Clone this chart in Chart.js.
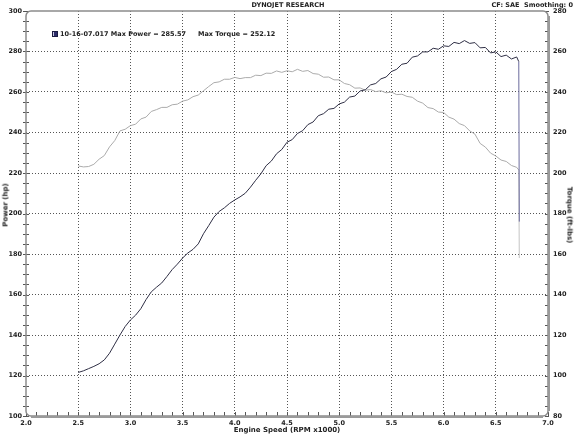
<!DOCTYPE html>
<html>
<head>
<meta charset="utf-8">
<script src="https://cdn.jsdelivr.net/npm/chart.js@4/dist/chart.umd.min.js"></script>
<style>
  html, body { margin: 0; padding: 0; background: #fff; }
  #wrap { position: relative; width: 576px; height: 435px; overflow: hidden; }
  canvas { position: absolute; left: 0; top: 0; }
  .t { position: absolute; font-family: "DejaVu Sans", Verdana, sans-serif; font-weight: bold; color: #222; white-space: nowrap; line-height: 1; }
  .c { transform: translate(-50%, -50%); }
  .rl { transform: translate(-50%, -50%) rotate(-90deg); }
  .rr { transform: translate(-50%, -50%) rotate(90deg); }
  #sq { position: absolute; left: 52px; top: 31px; width: 6px; height: 6px; background: linear-gradient(90deg, #c8c8e0 0 35%, #2c2c6a 35% 100%); border: 1px solid #1a1a40; box-sizing: border-box; }
</style>
</head>
<body>
<div id="wrap">
  <canvas id="c" width="576" height="435"></canvas>
  <div class="t c" style="left:288px; top:5px; font-size:6.5px;">DYNOJET RESEARCH</div>
  <div class="t" style="right:3px; top:2px; font-size:6.5px;">CF: SAE&nbsp;&nbsp;Smoothing: 0</div>
  <div id="sq"></div>
  <div class="t" style="left:60px; top:31px; font-size:6.5px;">10-16-07.017 Max Power = 285.57</div>
  <div class="t" style="left:198px; top:31px; font-size:6.5px;">Max Torque = 252.12</div>
  <div class="t c" style="left:287px; top:430px; font-size:7px;">Engine Speed (RPM x1000)</div>
  <div class="t rl" style="left:6px; top:205px; font-size:7px;">Power (hp)</div>
  <div class="t rr" style="left:569px; top:215px; font-size:7px;">Torque (ft-lbs)</div>
</div>
<script>
// ---- data ----
const rpm = [2.50,2.55,2.60,2.65,2.70,2.75,2.80,2.85,2.90,2.95,
             3.00,3.05,3.10,3.15,3.20,3.25,3.30,3.35,3.40,3.45,
             3.50,3.55,3.60,3.65,3.70,3.75,3.80,3.85,3.90,3.95,
             4.00,4.05,4.10,4.15,4.20,4.25,4.30,4.35,4.40,4.45,
             4.50,4.55,4.60,4.65,4.70,4.75,4.80,4.85,4.90,4.95,
             5.00,5.05,5.10,5.15,5.20,5.25,5.30,5.35,5.40,5.45,
             5.50,5.55,5.60,5.65,5.70,5.75,5.80,5.85,5.90,5.95,
             6.00,6.05,6.10,6.15,6.20,6.25,6.30,6.35,6.40,6.45,
             6.50,6.55,6.60,6.65,6.70,6.72,6.725];
const powerHp = [121.5,122.3,123.4,124.5,125.8,127.7,131.0,135.5,140.0,144.2,
                 147.4,149.8,153.0,157.5,161.3,163.6,165.7,168.9,172.3,175.0,
                 178.0,180.5,182.3,185.0,190.0,194.0,198.2,201.0,202.8,205.0,
                 206.7,208.2,210.0,213.0,216.4,219.6,223.6,225.9,229.5,231.6,
                 235.2,236.5,239.5,240.9,243.9,245.2,248.3,249.3,251.5,251.9,
                 254.1,255.0,257.5,258.0,260.5,261.1,263.5,264.2,266.5,267.4,
                 270.1,271.2,273.7,274.2,277.2,277.8,279.8,279.8,281.6,281.1,
                 282.8,282.5,284.5,283.9,285.4,284.0,284.4,281.8,282.0,279.3,
                 279.8,277.5,278.2,276.3,277.3,275.0,196.0];
const torqueFtLbs = [203.5,203.0,203.2,204.3,206.8,208.6,212.9,216.0,220.8,221.6,
                     223.4,224.1,226.7,227.6,230.4,231.3,232.4,232.4,233.7,234.0,
                     235.5,236.1,237.7,238.5,240.6,242.7,244.6,245.0,246.3,246.3,
                     247.2,246.6,247.1,247.1,248.3,248.1,249.3,249.2,250.4,249.7,
                     250.5,250.0,251.2,250.2,250.6,249.1,248.8,247.3,247.4,246.0,
                     246.0,244.2,243.6,241.9,242.0,240.9,241.2,240.2,240.6,239.6,
                     240.0,238.7,238.9,237.8,237.4,235.5,234.5,232.3,231.8,230.1,
                     229.9,227.6,226.6,224.4,223.4,220.8,219.2,214.6,212.8,209.8,
                     208.4,206.4,205.7,203.7,202.8,201.5,158.0];
const xTicks = {min: 2.0, max: 7.0, step: 0.5, minor: 0.1};
const hpTicks = {min: 100, max: 300, step: 20, minor: 5};
const tqTicks = {min: 80, max: 280, step: 20, minor: 5};

const FONT = "'DejaVu Sans', Verdana, sans-serif";

const frame = {
  id: 'frame',
  afterDraw(chart) {
    const {ctx, chartArea: a, scales} = chart;
    ctx.save();
    ctx.strokeStyle = '#555';
    ctx.lineWidth = 1;
    ctx.beginPath();
    for (let v = hpTicks.min; v <= hpTicks.max; v += hpTicks.minor) {
      const y = Math.round(scales.y.getPixelForValue(v)) + 0.5;
      ctx.moveTo(a.left - 3, y); ctx.lineTo(a.left + 3, y);
    }
    for (let v = tqTicks.min; v <= tqTicks.max; v += tqTicks.minor) {
      const y = Math.round(scales.y1.getPixelForValue(v)) + 0.5;
      ctx.moveTo(a.right - 3, y); ctx.lineTo(a.right + 1, y);
    }
    for (let i = 0; i <= Math.round((xTicks.max - xTicks.min) / xTicks.minor); i++) {
      const v = xTicks.min + i * xTicks.minor;
      const x = Math.round(scales.x.getPixelForValue(v)) + 0.5;
      ctx.moveTo(x, a.bottom - 4); ctx.lineTo(x, a.bottom);
    }
    ctx.stroke();
    const r = 5;
    ctx.strokeStyle = '#8c8c8c';
    ctx.lineWidth = 1.5;
    ctx.beginPath();
    ctx.roundRect(a.left, a.top, a.right - a.left, a.bottom - a.top, r);
    ctx.stroke();
    ctx.strokeStyle = '#9a9a9a';
    ctx.lineWidth = 2;
    ctx.beginPath();
    ctx.moveTo(a.left + r, a.bottom + 1); ctx.lineTo(a.right - r, a.bottom + 1);
    ctx.moveTo(a.right + 1, a.top + r); ctx.lineTo(a.right + 1, a.bottom - r);
    ctx.stroke();
    ctx.restore();
  }
};

const gridColor = (ctx, lo, hi) => {
  const v = ctx.tick && ctx.tick.value;
  return (Math.abs(v - lo) < 1e-6 || Math.abs(v - hi) < 1e-6) ? 'rgba(0,0,0,0)' : '#555';
};

new Chart(document.getElementById('c'), {
  type: 'line',
  data: {
    datasets: [
      {
        label: 'Power (hp)',
        data: rpm.map((r, i) => ({x: r, y: powerHp[i]})),
        yAxisID: 'y',
        borderColor: '#2e2e44',
        borderWidth: 1,
        pointRadius: 0,
        tension: 0,
        segment: { borderColor: c => (c.p1.parsed.x - c.p0.parsed.x < 0.01 ? '#6a6a9c' : undefined) }
      },
      {
        label: 'Torque (ft-lbs)',
        data: rpm.map((r, i) => ({x: r, y: torqueFtLbs[i]})),
        yAxisID: 'y1',
        borderColor: '#ababab',
        borderWidth: 1,
        pointRadius: 0,
        tension: 0,
        segment: { borderColor: c => (c.p1.parsed.x - c.p0.parsed.x < 0.01 ? '#c4c4c4' : undefined) }
      }
    ]
  },
  options: {
    responsive: false,
    animation: false,
    events: [],
    layout: { padding: { top: 11, left: 0, right: 0, bottom: 0 } },
    plugins: { legend: { display: false }, tooltip: { enabled: false }, title: { display: false } },
    scales: {
      x: {
        type: 'linear', min: xTicks.min, max: xTicks.max,
        afterFit: s => { s.height = 19; },
        ticks: { stepSize: xTicks.step, padding: 3, color: '#222', maxRotation: 0,
                 font: { family: FONT, size: 6.5, weight: 'bold' },
                 callback: v => Number(v).toFixed(1) },
        grid: { drawTicks: false, color: c => gridColor(c, xTicks.min, xTicks.max), lineWidth: 1 },
        border: { display: false, dash: [1, 2] }
      },
      y: {
        type: 'linear', position: 'left', min: hpTicks.min, max: hpTicks.max,
        afterFit: s => { s.width = 26; },
        ticks: { stepSize: hpTicks.step, padding: 4, color: '#222',
                 font: { family: FONT, size: 6.5, weight: 'bold' } },
        grid: { drawTicks: false, color: c => gridColor(c, hpTicks.min, hpTicks.max), lineWidth: 1 },
        border: { display: false, dash: [1, 2] }
      },
      y1: {
        type: 'linear', position: 'right', min: tqTicks.min, max: tqTicks.max,
        afterFit: s => { s.width = 28; },
        ticks: { stepSize: tqTicks.step, padding: 5, color: '#222',
                 font: { family: FONT, size: 6.5, weight: 'bold' } },
        grid: { display: false, drawTicks: false },
        border: { display: false }
      }
    }
  },
  plugins: [frame]
});
</script>
</body>
</html>
